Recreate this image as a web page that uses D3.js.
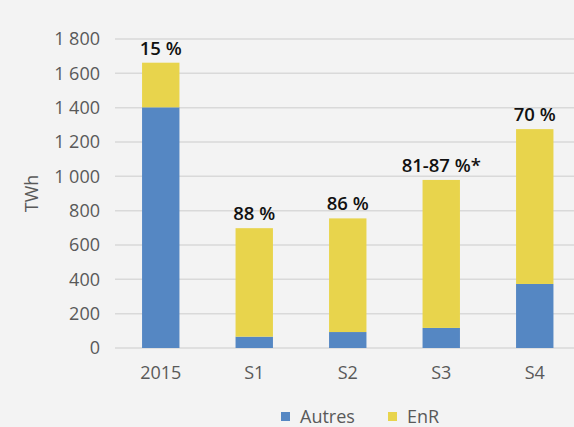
<!DOCTYPE html>
<html>
<head>
<meta charset="utf-8">
<script src="https://cdn.jsdelivr.net/npm/d3@7"></script>
<style>
  body { margin: 0; background: #f3f3f3; }
  svg { display: block; font-family: "Open Sans", sans-serif; }
</style>
</head>
<body>
<svg id="chart" width="574" height="427"></svg>
<script>
// data
const categories = ["2015", "S1", "S2", "S3", "S4"];
const autres = [1402, 66, 93, 117, 373];
const enr = [260, 632, 662, 862, 902];
const shareLabels = ["15 %", "88 %", "86 %", "81-87 %*", "70 %"];
const yTicks = [0, 200, 400, 600, 800, 1000, 1200, 1400, 1600, 1800];
const seriesNames = ["Autres", "EnR"];
const colors = { Autres: "#5587c3", EnR: "#e8d44c" };

const svg = d3.select("#chart");
const margin = { top: 39, left: 114, bottom: 79 };
const height = 427 - margin.top - margin.bottom;

const x = d3.scaleBand()
  .domain(categories)
  .range([margin.left, margin.left + 93.5 * categories.length])
  .paddingInner(0.6)
  .paddingOuter(0.3);

const y = d3.scaleLinear()
  .domain([0, 1800])
  .range([margin.top + height, margin.top]);

// gridlines
svg.append("g")
  .selectAll("line")
  .data(yTicks)
  .enter()
  .append("line")
  .attr("x1", margin.left + 1)
  .attr("x2", 574)
  .attr("y1", d => y(d))
  .attr("y2", d => y(d))
  .attr("stroke", "#d9d9d9")
  .attr("stroke-width", 1.5);

// y axis labels
const fmt = d => d3.format(",")(d).replace(/,/g, " ");
svg.append("g")
  .selectAll("text")
  .data(yTicks)
  .enter()
  .append("text")
  .attr("x", 100)
  .attr("y", d => y(d))
  .attr("dy", "0.35em")
  .attr("text-anchor", "end")
  .attr("fill", "#595959")
  .style("font-size", "18px")
  .text(fmt);

svg.append("text")
  .attr("transform", "translate(32," + y(900) + ") rotate(-90)")
  .attr("text-anchor", "middle")
  .attr("dy", "0.35em")
  .attr("fill", "#595959")
  .style("font-size", "18px")
  .text("TWh");

// stacked bars
const rows = categories.map((c, i) => ({ cat: c, Autres: autres[i], EnR: enr[i] }));
const stack = d3.stack().keys(seriesNames)(rows);

svg.append("g")
  .selectAll("g")
  .data(stack)
  .enter()
  .append("g")
  .attr("fill", s => colors[s.key])
  .selectAll("rect")
  .data(s => s)
  .enter()
  .append("rect")
  .attr("x", d => x(d.data.cat))
  .attr("width", x.bandwidth())
  .attr("y", d => y(d[1]))
  .attr("height", d => y(d[0]) - y(d[1]));

// share labels above bars
svg.append("g")
  .selectAll("text")
  .data(rows)
  .enter()
  .append("text")
  .attr("x", d => x(d.cat) + x.bandwidth() / 2)
  .attr("y", d => y(d.Autres + d.EnR) - 8)
  .attr("text-anchor", "middle")
  .attr("fill", "#111")
  .style("font-size", "18.5px")
  .style("font-weight", 600)
  .text((d, i) => shareLabels[i]);

// x labels
svg.append("g")
  .selectAll("text")
  .data(categories)
  .enter()
  .append("text")
  .attr("x", d => x(d) + x.bandwidth() / 2)
  .attr("y", 373)
  .attr("dy", "0.35em")
  .attr("text-anchor", "middle")
  .attr("fill", "#595959")
  .style("font-size", "18px")
  .text(d => d);

// legend
const legend = svg.append("g")
  .selectAll("g")
  .data(seriesNames)
  .enter()
  .append("g")
  .attr("transform", (d, i) => "translate(" + (281 + i * 107) + ",412)");

legend.append("rect")
  .attr("width", 9)
  .attr("height", 9)
  .attr("fill", d => colors[d]);

legend.append("text")
  .attr("x", 19)
  .attr("y", 5)
  .attr("dy", "0.35em")
  .attr("fill", "#595959")
  .style("font-size", "18px")
  .text(d => d);
</script>
</body>
</html>
